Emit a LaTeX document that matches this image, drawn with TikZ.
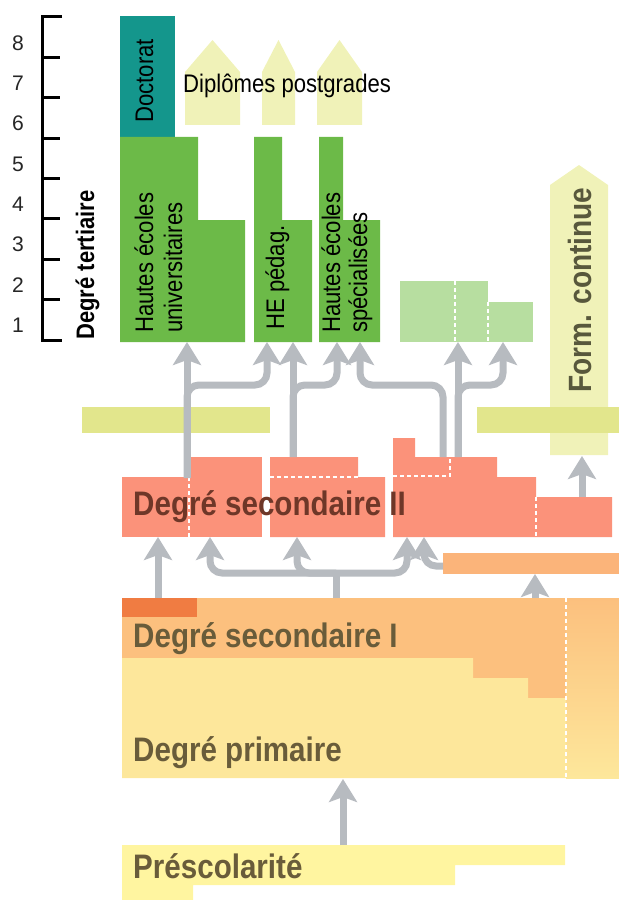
\documentclass[tikz,border=0pt]{standalone}
\usepackage{fontspec}
\setmainfont{Liberation Sans}
\newfontfamily\condsf{Liberation Sans}[FakeStretch=0.87]
\usetikzlibrary{arrows.meta}

\definecolor{doctteal}{RGB}{20,150,140}
\definecolor{unigreen}{RGB}{108,186,72}
\definecolor{palegreen}{RGB}{183,222,160}
\definecolor{bridgeyellow}{RGB}{226,230,140}
\definecolor{dotyellow}{RGB}{240,242,184}
\definecolor{sectwo}{RGB}{251,146,122}
\definecolor{orangebar}{RGB}{251,180,122}
\definecolor{secone}{RGB}{252,192,126}
\definecolor{darkorange}{RGB}{240,124,66}
\definecolor{primyellow}{RGB}{253,231,155}
\definecolor{prescyellow}{RGB}{255,245,160}
\definecolor{arrowgray}{RGB}{183,187,192}
\definecolor{sectwotext}{RGB}{110,55,40}
\definecolor{lowtext}{RGB}{105,92,58}
\definecolor{formtext}{RGB}{88,88,60}

\begin{document}
\begin{tikzpicture}[
		x=0.03cm, y=-0.03cm,
		every node/.style={inner sep=0, anchor=base west},
		garrow/.style={draw=arrowgray, line width=0.21cm, rounded corners=0.36cm,
			-{Stealth[length=0.69cm, width=0.84cm, inset=0.15cm]}},
		gline/.style={draw=arrowgray, line width=0.21cm},
		wdash/.style={draw=white, line width=0.06cm, dash pattern=on 0.12cm off 0.09cm},
		biglabel/.style={font=\condsf\bfseries\fontsize{29}{30}\selectfont},
		smalllabel/.style={font=\condsf\fontsize{21.7}{22}\selectfont, rotate=90},
		scalelabel/.style={anchor=center, font=\fontsize{18}{18}\selectfont, text={black!85}}
	]
  \useasboundingbox (0,0) rectangle (619,900);

  \draw[line width=0.09cm] (62,17) -- (42,17) -- (42,340) -- (62,340);
  \foreach \i in {1,...,7}
    \draw[line width=0.09cm] (42,{17+40.375*\i}) -- (60,{17+40.375*\i});
  \foreach \k in {1,...,8}
    \node (d\k) [scalelabel] at (18,{43+40.3*(8-\k)}) {\k};
  \node (tert) [smalllabel, font=\condsf\bfseries\fontsize{21.6}{22}\selectfont] at (94,340) {Degré tertiaire};

  \foreach \l/\r in {185/240, 262/295, 317/362}
    \fill[dotyellow] (\l,125) -- (\l,72) -- ({(\l+\r)/2},40) -- (\r,72) -- (\r,125) -- cycle;
  \fill[dotyellow] (550,455) -- (550,185) -- (579,165) -- (608,185) -- (608,455) -- cycle;

  \fill[doctteal] (120,16) rectangle (175,137);
  \fill[unigreen] (120,137) -- (198,137) -- (198,220) -- (245,220) -- (245,342) -- (120,342) -- cycle;
  \fill[unigreen] (254,137) -- (282,137) -- (282,220) -- (312,220) -- (312,342) -- (254,342) -- cycle;
  \fill[unigreen] (319,137) -- (343,137) -- (343,220) -- (380,220) -- (380,342) -- (319,342) -- cycle;
  \fill[palegreen] (400,281) rectangle (488,342);
  \fill[palegreen] (488,302) rectangle (533,342);

  \fill[bridgeyellow] (82,407) rectangle (270,433);
  \fill[bridgeyellow] (477,407) rectangle (619,433);

  \fill[sectwo] (122,477) rectangle (190,537);
  \fill[sectwo] (188,457) rectangle (262,537);
  \fill[sectwo] (270,457) -- (358,457) -- (358,477) -- (385,477) -- (385,537) -- (270,537) -- cycle;
  \fill[sectwo] (393,438) -- (415,438) -- (415,457) -- (497,457) -- (497,477) -- (536,477)
    -- (536,497) -- (612,497) -- (612,537) -- (393,537) -- cycle;
  \fill[orangebar] (443,553) rectangle (619,574);

  \fill[secone] (122,598) -- (566,598) -- (566,698) -- (528,698) -- (528,678) -- (473,678)
    -- (473,658) -- (122,658) -- cycle;
  \fill[primyellow] (122,658) -- (473,658) -- (473,678) -- (528,678) -- (528,698) -- (566,698)
    -- (566,778) -- (122,778) -- cycle;
  \shade[top color=secone, bottom color=primyellow] (566,598) rectangle (619,778);
  \fill[darkorange] (122,598) rectangle (197,617);

  \fill[prescyellow] (122,845) -- (565,845) -- (565,865) -- (455,865) -- (455,885) -- (193,885)
    -- (193,900) -- (122,900) -- cycle;

  \draw[wdash] (455,281) -- (455,342);
  \draw[wdash] (488,302) -- (488,342);
  \draw[wdash] (189,477) -- (189,537);
  \draw[wdash] (270,477) -- (358,477);
  \draw[wdash] (393,476) -- (450,476) -- (450,457);
  \draw[wdash] (536,497) -- (536,537);
  \draw[wdash] (566,598) -- (566,778);

  \coordinate (presc out) at (343,845);
  \coordinate (prim in) at (343,779);
  \coordinate (secI left) at (158,598);
  \coordinate (secI mid) at (336,598);
  \coordinate (secI right) at (535,598);
  \coordinate (split) at (336,573);
  \coordinate (secII a) at (158,537);
  \coordinate (secII b) at (210,537);
  \coordinate (secII c) at (297,537);
  \coordinate (secII d) at (407,537);
  \coordinate (secII e) at (424,537);
  \coordinate (bar out) at (443,566);
  \coordinate (bar in) at (535,574);
  \coordinate (gen out) at (187,478);
  \coordinate (ped out) at (293,457);
  \coordinate (voc out) at (443,457);
  \coordinate (pro out) at (458,457);
  \coordinate (form out) at (582,497);
  \coordinate (form in) at (582,456);
  \coordinate (uni in) at (187,342);
  \coordinate (hep in a) at (267,342);
  \coordinate (hep in b) at (293,342);
  \coordinate (hes in a) at (337,342);
  \coordinate (hes in b) at (360,342);
  \coordinate (sup in a) at (458,342);
  \coordinate (sup in b) at (503,342);

  \draw[garrow] (presc out) -- (prim in);
  \draw[garrow] (secI left) -- (secII a);
  \draw[gline] (secI mid) -- (split);
  \draw[garrow] (split) -| (secII b);
  \draw[garrow] (split) -| (secII c);
  \draw[garrow] (split) -| (secII d);
  \draw[garrow] (bar out) -| (secII e);
  \draw[garrow] (secI right) -- (bar in);
  \draw[garrow] (form out) -- (form in);
  \draw[garrow] (gen out) -- (uni in);
  \draw[garrow] (gen out) |- (267,385) -- (hep in a);
  \draw[garrow] (ped out) -- (hep in b);
  \draw[garrow] (ped out) |- (337,385) -- (hes in a);
  \draw[garrow] (voc out) |- (360,385) -- (hes in b);
  \draw[garrow] (pro out) -- (sup in a);
  \draw[garrow] (pro out) |- (503,385) -- (sup in b);

  \node (doct) [smalllabel] at (153,123) {Doctorat};
  \node (uni1) [smalllabel] at (153,333) {Hautes écoles};
  \node (uni2) [smalllabel] at (182,333) {universitaires};
  \node (hep) [smalllabel] at (284,330) {HE pédag.};
  \node (hes1) [smalllabel] at (340,333) {Hautes écoles};
  \node (hes2) [smalllabel] at (367,333) {spécialisées};
  \node (postgrad) [font=\condsf\fontsize{21.7}{22}\selectfont] at (183,93) {Diplômes postgrades};
  \node (form) [biglabel, font=\condsf\bfseries\fontsize{27.5}{28}\selectfont, rotate=90, text=formtext] at (591,393) {Form. continue};

  \node (secII) [biglabel, text=sectwotext] at (133,515) {Degré secondaire II};
  \node (secI) [biglabel, text=lowtext] at (133,647) {Degré secondaire I};
  \node (prim) [biglabel, text=lowtext] at (133,761) {Degré primaire};
  \node (presc) [biglabel, text=lowtext] at (133,878) {Préscolarité};
\end{tikzpicture}
\end{document}
